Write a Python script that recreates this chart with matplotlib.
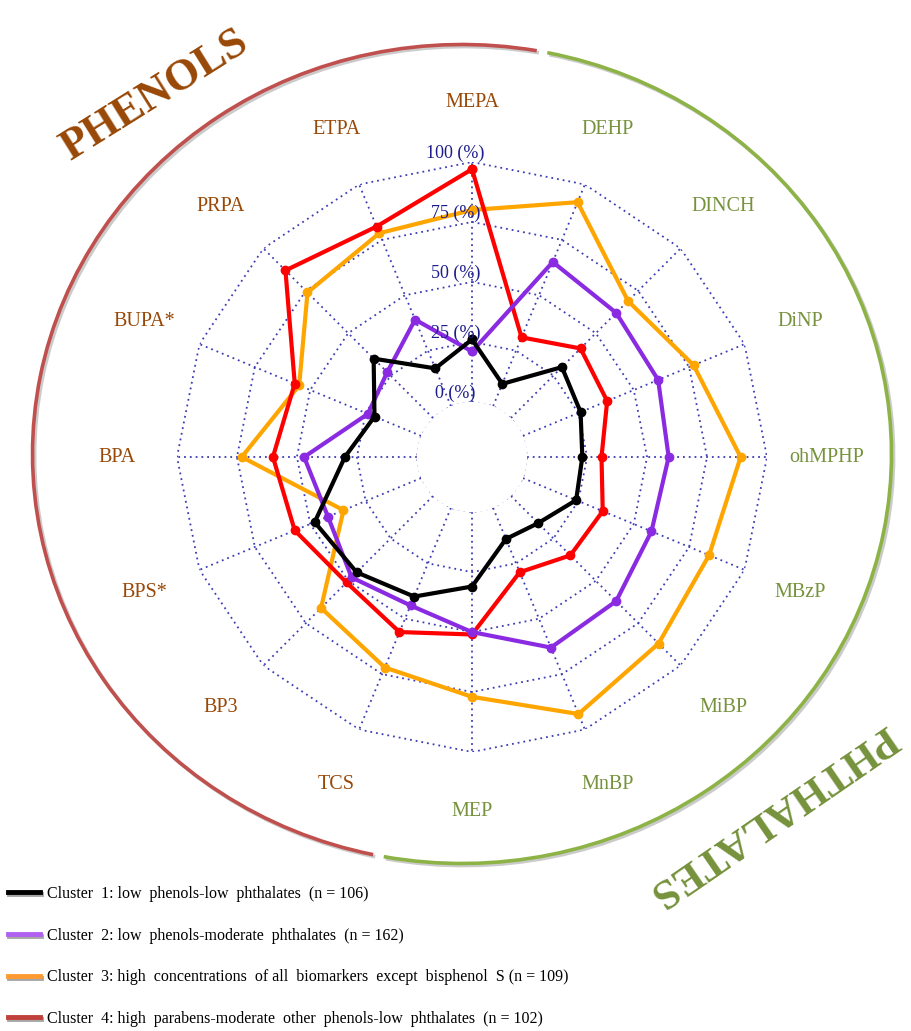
import numpy as np
import matplotlib
matplotlib.use("Agg")
import matplotlib.pyplot as plt
import matplotlib.patheffects as pe
from matplotlib.lines import Line2D
from matplotlib.patches import Arc

plt.rcParams['font.family'] = ['Liberation Serif', 'DejaVu Serif']

# biomarkers, clockwise from the top
biomarkers = ["MEPA", "DEHP", "DINCH", "DiNP", "ohMPHP", "MBzP", "MiBP", "MnBP",
              "MEP", "TCS", "BP3", "BPS*", "BPA", "BUPA*", "PRPA", "ETPA"]
families = ["phenol", "phthalate", "phthalate", "phthalate", "phthalate", "phthalate",
            "phthalate", "phthalate", "phthalate", "phenol", "phenol", "phenol",
            "phenol", "phenol", "phenol", "phenol"]

# percentiles (%) per cluster
cluster1 = [26, 10, 30, 26, 23, 24, 16, 14, 31, 40, 45, 48, 30, 21, 35, 17]
cluster2 = [21, 65, 62, 61, 59, 58, 62, 63, 50, 44, 48, 42, 47, 24, 27, 39]
cluster3 = [80, 92, 69, 77, 89, 84, 87, 93, 77, 72, 66, 35, 73, 55, 74, 78]
cluster4 = [97, 31, 41, 38, 31, 36, 35, 29, 51, 56, 51, 57, 60, 57, 87, 81]

legend_labels = [
    "Cluster  1: low  phenols-low  phthalates  (n = 106)",
    "Cluster  2: low  phenols-moderate  phthalates  (n = 162)",
    "Cluster  3: high  concentrations  of all  biomarkers  except  bisphenol  S (n = 109)",
    "Cluster  4: high  parabens-moderate  other  phenols-low  phthalates  (n = 102)",
]
ring_levels = [0, 25, 50, 75, 100]

line_colors = ["black", "#8a2be2", "#ffa500", "#ff0000"]
legend_colors = ["black", "#b060f0", "#ff9a30", "#c0403a"]
family_colors = {"phenol": "#984807", "phthalate": "#76923c"}
grid_color = "#3c3cb4"

W, H = 912, 1031
fig = plt.figure(figsize=(W / 100, H / 100), dpi=100)

# overlay in pixel units for the decorative arcs and group titles
bg = fig.add_axes([0, 0, 1, 1])
bg.set_xlim(0, W)
bg.set_ylim(0, H)
bg.axis("off")

shadow = [pe.SimpleLineShadow(offset=(1.5, -1.5), shadow_color="0.6", alpha=0.5), pe.Normal()]
red_arc = Arc((462, H - 454), 859, 819, theta1=79.5, theta2=257.5,
              color="#c0504d", lw=2.6, path_effects=shadow)
green_arc = Arc((462, H - 454), 859, 819, theta1=-101.0, theta2=78.0,
                color="#8db346", lw=2.6, path_effects=shadow)
bg.add_patch(red_arc)
bg.add_patch(green_arc)

bg.text(155, H - 95, "PHENOLS", rotation=32, rotation_mode="anchor",
        ha="center", va="center", fontsize=32, fontweight="bold",
        color=family_colors["phenol"])
bg.text(772, H - 815, "PHTHALATES", rotation=214.5, rotation_mode="anchor",
        ha="center", va="center", fontsize=31, fontweight="bold",
        color=family_colors["phthalate"])

# radar axes: centre (472, 457) px, 0 % ring at 55 px, 100 % ring at 295 px
cx, cy, R = 472, 457, 295
ax = fig.add_axes([(cx - R) / W, (H - cy - R) / H, 2 * R / W, 2 * R / H],
                  projection="polar")
ax.set_theta_zero_location("N")
ax.set_theta_direction(-1)
ax.set_ylim(0, 100)
ax.set_rorigin(-23)
ax.axis("off")

n = len(biomarkers)
theta = np.arange(n) * 2 * np.pi / n
closed = np.append(theta, theta[0])

for lev in ring_levels:
    ax.plot(closed, [lev] * (n + 1), color=grid_color, lw=1.3, ls=(0, (1, 2.2)))
for t in theta:
    ax.plot([t, t], [0, 100], color=grid_color, lw=1.3, ls=(0, (1, 2.2)))

for lev in ring_levels:
    ax.annotate(f"{lev} (%)", xy=(0, lev), xytext=(-12, 6), textcoords="offset points",
                ha="center", va="center", fontsize=13, color="#1c1c8c")

clusters = [cluster1, cluster2, cluster3, cluster4]
for idx in [2, 3, 1, 0]:
    vals = np.append(clusters[idx], clusters[idx][0])
    ax.plot(closed, vals, color=line_colors[idx], lw=3, marker="o", ms=6,
            solid_joinstyle="round")

for t, name, fam in zip(theta, biomarkers, families):
    ax.text(t, 125, name, ha="center", va="center", fontsize=14.5,
            color=family_colors[fam], clip_on=False)

handles = [Line2D([], [], color=c, lw=3.5,
                  path_effects=[pe.SimpleLineShadow(offset=(1, -1.5), alpha=0.35), pe.Normal()])
           for c in legend_colors]
fig.legend(handles, legend_labels, loc="upper left", bbox_to_anchor=(8 / W, 1 - 886 / H),
           frameon=False, fontsize=11.5, handlelength=2.0, handletextpad=0.45,
           labelspacing=1.6, borderpad=0, borderaxespad=0)

fig.savefig("out.png", dpi=100)
